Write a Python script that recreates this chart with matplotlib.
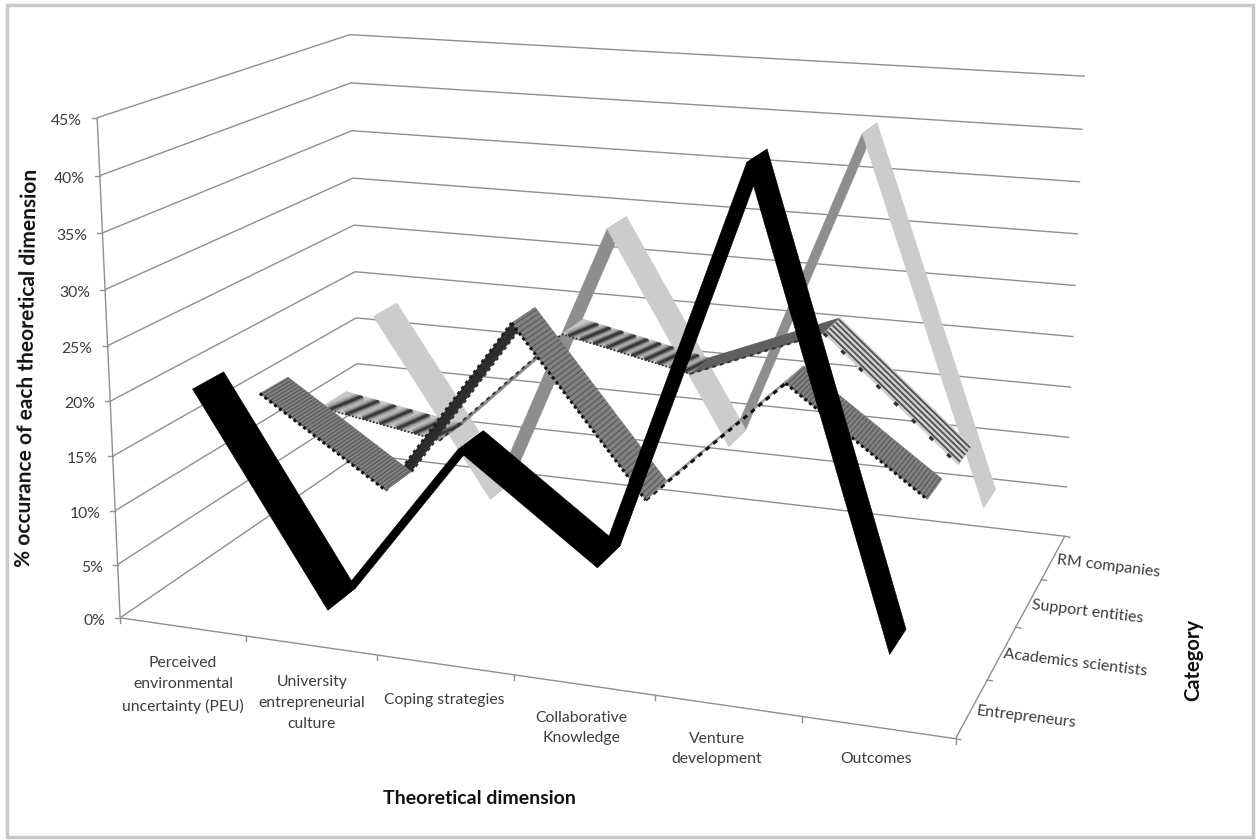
import numpy as np
import matplotlib
matplotlib.use("Agg")
import matplotlib.pyplot as plt
from matplotlib.collections import LineCollection
from matplotlib.patches import Polygon, Rectangle

W, H = 1258, 840

dimensions = ["Perceived\nenvironmental\nuncertainty (PEU)", "University\nentrepreneurial\nculture",
              "Coping strategies", "Collaborative\nKnowledge", "Venture\ndevelopment", "Outcomes"]
categories = ["Entrepreneurs", "Academics scientists", "Support entities", "RM companies"]
pct_ticks = [0, 5, 10, 15, 20, 25, 30, 35, 40, 45]

entrepreneurs = [20.8, 2.0, 18.0, 9.1, 44.4, 4.9]
academics = [16.9, 9.0, 25.9, 11.0, 22.9, 14.0]
support = [12.0, 10.0, 21.7, 19.1, 24.1, 13.2]
rm_companies = [18.0, 0.1, 29.0, 8.4, 40.0, 5.1]

# Camera fit: (dimension, category, percent) -> figure pixel
camera_refs = [
    (0, 0, 0, 122, 617), (0, 0, 45, 97, 117), (0, 4, 0, 359, 453), (0, 4, 45, 350, 35),
    (6, 4, 0, 1066, 536), (6, 4, 45, 1085, 77), (6, 0, 0, 954, 738),
    (0, 0, 20, 111, 400), (0, 4, 20, 355, 273), (6, 4, 20, 1073, 337),
    (1, 0, 0, 246, 638), (2, 0, 0, 378, 657), (3, 0, 0, 512, 678),
    (6, 3, 0, 1042, 579), (6, 2, 0, 1017, 626), (6, 1, 0, 987, 679),
    (0, 0, 40, 100, 175), (0, 4, 40, 350, 83), (6, 4, 40, 1083, 129),
    (6, 4, 5, 1066, 487), (0, 4, 5, 358, 409), (0, 0, 5, 117, 563),
]


def fit_camera(refs):
    rows = []
    for x, s, v, px, py in refs:
        p = [x / 6, s / 4, v / 45, 1]
        rows.append(p + [0, 0, 0, 0] + [-px / 1000 * c for c in p])
        rows.append([0, 0, 0, 0] + p + [-py / 1000 * c for c in p])
    _, _, vt = np.linalg.svd(np.array(rows))
    return vt[-1].reshape(3, 4)


CAM = fit_camera(camera_refs)


def project(x, s, v):
    h = CAM @ np.array([x / 6, s / 4, v / 45, 1.0])
    return h[0] / h[2] * 1000, h[1] / h[2] * 1000


fig = plt.figure(figsize=(W / 100, H / 100), dpi=100)
ax = fig.add_axes([0, 0, 1, 1])
ax.set_xlim(0, W)
ax.set_ylim(H, 0)
ax.axis("off")
plt.rcParams["font.family"] = ["Lato", "DejaVu Sans"]

ax.add_patch(Rectangle((7, 5), 1246, 832, fill=False, ec="#c9c9c9", lw=2.5))

GRID = "#8f8f8f"
TICK_COLOR = "#3c3c3c"
TICK_SIZE = 11.3


def seg(p, q):
    ax.plot(*zip(project(*p), project(*q)), color=GRID, lw=1.0, solid_capstyle="butt")


for v in pct_ticks:
    seg((0, 0, v), (0, 4, v))
    seg((0, 4, v), (6, 4, v))
    x0, y0 = project(0, 0, v)
    ax.plot([x0 - 5, x0], [y0, y0], color=GRID, lw=1)
    ax.text(x0 - 15, y0 + 3, f"{v}%", ha="right", va="center", fontsize=TICK_SIZE, color=TICK_COLOR)
seg((0, 0, 0), (0, 0, 45))
seg((0, 0, 0), (6, 0, 0))
seg((6, 0, 0), (6, 4, 0))
for i in range(7):
    px, py = project(i, 0, 0)
    ax.plot([px, px], [py, py + 5], color=GRID, lw=1)
for j in range(5):
    px, py = project(6, j, 0)
    ax.plot([px, px + 5], [py, py + 1], color=GRID, lw=1)

RIBBON = 0.46


def quad(i, j, vals):
    """Return a mapper from ribbon coordinates (u along, t across) to pixels."""
    s0 = j + 0.5 - RIBBON / 2

    def at(u, t):
        return project(i + 0.5 + u, s0 + RIBBON * t, vals[i] + (vals[i + 1] - vals[i]) * u)
    return at


def fill_quad(at, color, z):
    poly = Polygon([at(0, 0), at(1, 0), at(1, 1), at(0, 1)], closed=True, fc=color, ec=color, lw=0.4, zorder=z)
    ax.add_patch(poly)
    return poly


def stripes(at, poly, us, color, lw, z, skew=0.0):
    lines = [[at(u, 0), at(u + skew, 1)] for u in us]
    lc = LineCollection(lines, colors=color, linewidths=lw, zorder=z)
    ax.add_collection(lc)
    lc.set_clip_path(poly)


def rails(at, poly, ts, color, lw, z):
    lines = [[at(0, t), at(1, t)] for t in ts]
    lc = LineCollection(lines, colors=color, linewidths=lw, zorder=z)
    ax.add_collection(lc)
    lc.set_clip_path(poly)


def edge(at, t, z, color="#111111", lw=1.8, dash=(0, (1.0, 1.0))):
    a, b = at(0, t), at(1, t)
    ax.plot([a[0], b[0]], [a[1], b[1]], color=color, lw=lw, ls=dash, zorder=z)


def draw_rm(z):
    for i in range(5):
        at = quad(i, 3, rm_companies)
        rising = rm_companies[i + 1] > rm_companies[i]
        fill_quad(at, "#8e8e8e" if rising else "#cccccc", z + (0 if rising else 0.1))


def draw_support(z):
    for i in range(5):
        at = quad(i, 2, support)
        if i in (0, 2):
            poly = fill_quad(at, "#c4c4c4", z)
            n = 7 if i == 0 else 10
            us = (np.arange(n) + 0.5) / n
            stripes(at, poly, us, "#a6a6a6", 7, z + 0.1, skew=0.07)
            stripes(at, poly, us, "#727272", 4, z + 0.2, skew=0.07)
            stripes(at, poly, us, "#383838", 2, z + 0.3, skew=0.07)
            edge(at, 0, z + 0.4, lw=1.3, color="#333333")
        elif i == 4:
            poly = fill_quad(at, "#cfcfcf", z)
            rails(at, poly, np.linspace(0.15, 0.9, 5), "#4f4f4f", 1.3, z + 0.1)
            edge(at, 0, z + 0.4, lw=2.4, color="#333333", dash=(0, (1.4, 6.0)))
        else:
            fill_quad(at, "#8a8a8a" if i == 1 else "#5f5f5f", z)
            edge(at, 0, z + 0.4, lw=1.4, color="#333333", dash=(0, (2.0, 2.0)))


def draw_academics(z):
    for i in range(5):
        at = quad(i, 1, academics)
        if academics[i + 1] < academics[i]:
            poly = fill_quad(at, "#828282", z + 0.2)
            n = 46
            stripes(at, poly, (np.arange(n) + 0.5) / n, "#5e5e5e", 1.0, z + 0.3)
            edge(at, 0, z + 0.4, lw=2.2)
        elif i == 1:
            poly = fill_quad(at, "#4a4a4a", z)
            stripes(at, poly, (np.arange(40) + 0.5) / 40, "#2a2a2a", 1.2, z + 0.05)
            edge(at, 0, z + 0.1, lw=2.4, color="#222222")
            edge(at, 1, z + 0.1, lw=2.4, color="#333333")
        else:
            fill_quad(at, "#9a9a9a", z)
            edge(at, 0, z + 0.1, lw=2.2, dash=(0, (1.6, 1.6)))


def draw_entrepreneurs(z):
    for i in range(5):
        fill_quad(quad(i, 0, entrepreneurs), "#000000", z)


draw_rm(10)
draw_support(20)
draw_academics(30)
draw_entrepreneurs(40)

dim_centres = [(183, 685), (312, 703), (444, 700), (581, 728), (717, 749), (876, 759)]
for label, (cx, cy) in zip(dimensions, dim_centres):
    ax.text(cx, cy, label, ha="center", va="center", fontsize=TICK_SIZE, color=TICK_COLOR, linespacing=1.62)
cat_centres = [(1026, 717), (1075, 663), (1087, 612), (1108, 566)]
for label, (cx, cy) in zip(categories, cat_centres):
    ax.text(cx, cy, label, ha="center", va="center", rotation=-7, rotation_mode="anchor",
            fontsize=TICK_SIZE + 0.2, color=TICK_COLOR)

ax.text(479, 799, "Theoretical dimension", ha="center", va="center", fontsize=14, fontweight="bold", color="#111111")
ax.text(27, 368, "% occurance of each theoretical dimension", ha="center", va="center", rotation=89,
        rotation_mode="anchor", fontsize=15, fontweight="bold", color="#111111")
ax.text(1193, 660, "Category", ha="center", va="center", rotation=90, fontsize=14.5, fontweight="bold", color="#111111")

fig.savefig("out.png", dpi=100)
